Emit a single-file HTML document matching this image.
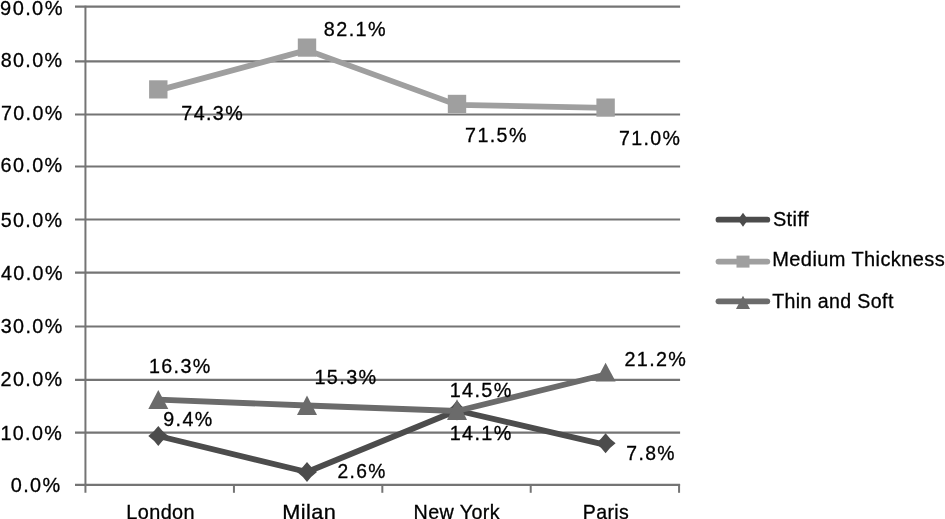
<!DOCTYPE html>
<html><head><meta charset="utf-8"><title>Chart</title>
<style>
html,body{margin:0;padding:0;background:#fff;}
body{width:945px;height:519px;overflow:hidden;position:relative;}
svg{position:absolute;left:0;top:0;display:block;will-change:transform;}
text{font-family:"Liberation Sans",sans-serif;font-size:20px;fill:#000;stroke:#000;stroke-width:0.3px;}
.n{letter-spacing:1.4px;}
.w{letter-spacing:0.4px;}
</style></head><body>
<svg width="945" height="519" viewBox="0 0 945 519">
<line x1="75" y1="6.7" x2="680.1" y2="6.7" stroke="#747474" stroke-width="2.2"/>
<line x1="75" y1="61.3" x2="680.1" y2="61.3" stroke="#747474" stroke-width="2.2"/>
<line x1="75" y1="114.5" x2="680.1" y2="114.5" stroke="#747474" stroke-width="2.2"/>
<line x1="75" y1="166.5" x2="680.1" y2="166.5" stroke="#747474" stroke-width="2.2"/>
<line x1="75" y1="219.5" x2="680.1" y2="219.5" stroke="#747474" stroke-width="2.2"/>
<line x1="75" y1="272.7" x2="680.1" y2="272.7" stroke="#747474" stroke-width="2.2"/>
<line x1="75" y1="326.5" x2="680.1" y2="326.5" stroke="#747474" stroke-width="2.2"/>
<line x1="75" y1="379.9" x2="680.1" y2="379.9" stroke="#747474" stroke-width="2.2"/>
<line x1="75" y1="432.6" x2="680.1" y2="432.6" stroke="#747474" stroke-width="2.2"/>
<line x1="75" y1="484.9" x2="680.1" y2="484.9" stroke="#747474" stroke-width="2.2"/>
<line x1="85.44" y1="5.7" x2="85.44" y2="492.8" stroke="#747474" stroke-width="2"/>
<line x1="233.94" y1="484" x2="233.94" y2="492.8" stroke="#747474" stroke-width="2"/>
<line x1="382.33" y1="484" x2="382.33" y2="492.8" stroke="#747474" stroke-width="2"/>
<line x1="530.71" y1="484" x2="530.71" y2="492.8" stroke="#747474" stroke-width="2"/>
<line x1="679.07" y1="484" x2="679.07" y2="492.8" stroke="#747474" stroke-width="2"/>
<polyline points="158.3,436.0 307.0,472.0 457.0,410.5 605.6,444.8" fill="none" stroke="#4c4c4c" stroke-width="5.8" stroke-linejoin="round" stroke-linecap="round"/>
<path d="M158.3,426.0 Q162.5,431.8 168.3,436.0 Q162.5,440.2 158.3,446.0 Q154.10000000000002,440.2 148.3,436.0 Q154.10000000000002,431.8 158.3,426.0Z" fill="#4c4c4c"/>
<path d="M307.0,462.0 Q311.2,467.8 317.0,472.0 Q311.2,476.2 307.0,482.0 Q302.8,476.2 297.0,472.0 Q302.8,467.8 307.0,462.0Z" fill="#4c4c4c"/>
<path d="M457.0,400.5 Q461.2,406.3 467.0,410.5 Q461.2,414.7 457.0,420.5 Q452.8,414.7 447.0,410.5 Q452.8,406.3 457.0,400.5Z" fill="#4c4c4c"/>
<path d="M605.6,433.3 Q609.8000000000001,439.1 615.6,443.3 Q609.8000000000001,447.5 605.6,453.3 Q601.4,447.5 595.6,443.3 Q601.4,439.1 605.6,433.3Z" fill="#4c4c4c"/>
<polyline points="158.3,90.4 307.0,50.1 457.0,104.9 605.6,107.9" fill="none" stroke="#9f9f9f" stroke-width="5.8" stroke-linejoin="round" stroke-linecap="round"/>
<rect x="149.10000000000002" y="80.30000000000001" width="18.4" height="18.2" fill="#9f9f9f"/>
<rect x="297.8" y="38.5" width="18.4" height="18.2" fill="#9f9f9f"/>
<rect x="447.8" y="94.80000000000001" width="18.4" height="18.2" fill="#9f9f9f"/>
<rect x="596.4" y="98.5" width="18.4" height="18.2" fill="#9f9f9f"/>
<polyline points="158.3,399.7 307.0,405.5 457.0,411.0 605.6,374.5" fill="none" stroke="#6b6b6b" stroke-width="5.8" stroke-linejoin="round" stroke-linecap="round"/>
<polygon points="158.3,390.0 168.3,409.1 148.3,409.1" fill="#6b6b6b"/>
<polygon points="307.0,395.6 317.0,414.9 297.0,414.9" fill="#6b6b6b"/>
<polygon points="457.0,399.2 467.0,420.0 447.0,420.0" fill="#6b6b6b"/>
<polygon points="605.6,362.8 615.6,381.6 595.6,381.6" fill="#6b6b6b"/>
<line x1="718.5" y1="219.7" x2="767.3" y2="219.7" stroke="#4c4c4c" stroke-width="5.8" stroke-linecap="round"/>
<polygon points="743,212.7 748,219.7 743,226.7 738,219.7" fill="#4c4c4c"/>
<line x1="718.5" y1="261.6" x2="767.3" y2="261.6" stroke="#9f9f9f" stroke-width="5.8" stroke-linecap="round"/>
<rect x="736.5" y="255.60000000000002" width="13" height="12" fill="#9f9f9f"/>
<line x1="718.5" y1="301.3" x2="767.3" y2="301.3" stroke="#6b6b6b" stroke-width="5.8" stroke-linecap="round"/>
<polygon points="743,295.8 750,309.1 736,309.1" fill="#6b6b6b"/>
<text class="n" transform="translate(0.10,14.88) scale(1.0012,1.0000)">90.0%</text>
<text class="n" transform="translate(0.64,66.94) scale(0.9877,1.0000)">80.0%</text>
<text class="n" transform="translate(0.92,119.74) scale(0.9831,1.0000)">70.0%</text>
<text class="n" transform="translate(0.51,172.09) scale(0.9897,1.0000)">60.0%</text>
<text class="n" transform="translate(0.64,227.14) scale(0.9877,1.0000)">50.0%</text>
<text class="n" transform="translate(1.01,280.19) scale(0.9865,1.0000)">40.0%</text>
<text class="n" transform="translate(0.76,333.44) scale(0.9873,1.0000)">30.0%</text>
<text class="n" transform="translate(0.51,385.84) scale(0.9897,1.0000)">20.0%</text>
<text class="n" transform="translate(0.42,440.44) scale(0.9863,1.0000)">10.0%</text>
<text class="n" transform="translate(10.75,492.49) scale(0.9943,1.0000)">0.0%</text>
<text class="n" transform="translate(181.32,119.59) scale(0.9847,1.0000)">74.3%</text>
<text class="n" transform="translate(323.83,36.34) scale(0.9909,1.0000)">82.1%</text>
<text class="n" transform="translate(465.12,141.97) scale(0.9831,1.0000)">71.5%</text>
<text class="n" transform="translate(618.92,145.49) scale(0.9781,1.0000)">71.0%</text>
<text class="n" transform="translate(148.92,373.09) scale(0.9863,1.0000)">16.3%</text>
<text class="n" transform="translate(314.41,383.59) scale(0.9929,1.0000)">15.3%</text>
<text class="n" transform="translate(449.72,396.67) scale(0.9896,1.0000)">14.5%</text>
<text class="n" transform="translate(624.41,365.84) scale(0.9880,1.0000)">21.2%</text>
<text class="n" transform="translate(163.32,425.64) scale(0.9829,1.0000)">9.4%</text>
<text class="n" transform="translate(337.44,478.44) scale(0.9600,1.0000)">2.6%</text>
<text class="n" transform="translate(449.72,440.40) scale(0.9896,1.0000)">14.1%</text>
<text class="n" transform="translate(626.33,460.04) scale(0.9683,1.0000)">7.8%</text>
<text class="w" transform="translate(126.28,518.60) scale(0.9943,1.0000)">London</text>
<text class="w" transform="translate(282.14,518.90) scale(1.0860,1.0000)">Milan</text>
<text class="w" transform="translate(413.60,519.00) scale(0.9857,1.0000)">New York</text>
<text class="w" transform="translate(582.81,518.50) scale(0.9765,1.0000)">Paris</text>
<text class="w" transform="translate(772.90,225.59) scale(0.9986,1.0000)">Stiff</text>
<text class="w" transform="translate(772.27,265.84) scale(1.0006,1.0000)">Medium Thickness</text>
<text class="w" transform="translate(772.21,307.79) scale(0.9795,1.0000)">Thin and Soft</text>
</svg>
</body></html>
